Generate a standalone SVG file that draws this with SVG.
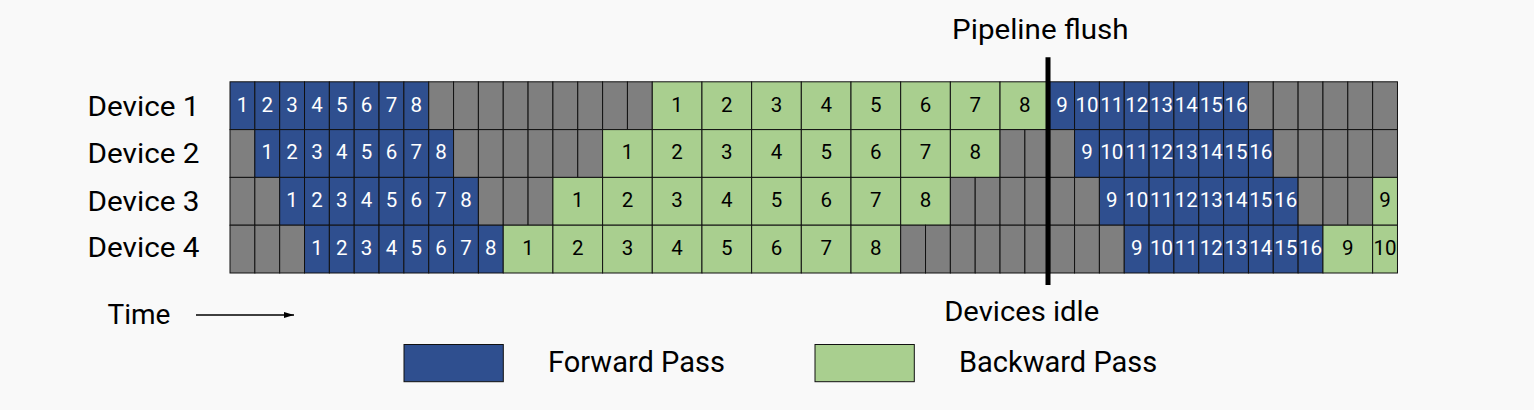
<svg xmlns="http://www.w3.org/2000/svg" width="1534" height="410" viewBox="0 0 1534 410">
<defs>
<style>
.f{fill:#2f4f8f;stroke:#111;stroke-width:1}
.b{fill:#a9cf8f;stroke:#111;stroke-width:1}
.g{fill:#7f7f7f;stroke:#111;stroke-width:1}
.nf{font-family:Roboto,"Liberation Sans",sans-serif;font-size:20.5px;fill:#fff;text-anchor:middle}
.nb{font-family:Roboto,"Liberation Sans",sans-serif;font-size:20.5px;fill:#000;text-anchor:middle}
.lbl{font-family:Roboto,"Liberation Sans",sans-serif;font-size:28px;fill:#000}
.leg{font-family:Roboto,"Liberation Sans",sans-serif;font-size:29px;fill:#000}
</style>
<marker id="ah" viewBox="0 0 10 10" refX="10" refY="5" markerWidth="10" markerHeight="6" markerUnits="userSpaceOnUse" orient="auto" preserveAspectRatio="none">
<path d="M0,0 L10,5 L0,10 Z" fill="#000"/>
</marker>
</defs>
<rect x="0" y="0" width="1534" height="410" fill="#f9f9f9"/>

<g id="device1">
<text class="lbl" x="87.5" y="116" textLength="112" lengthAdjust="spacingAndGlyphs">Device 1</text>
<g>
<rect class="f" x="230" y="81.8" width="24.84" height="47.8"/>
<rect class="f" x="254.84" y="81.8" width="24.84" height="47.8"/>
<rect class="f" x="279.68" y="81.8" width="24.84" height="47.8"/>
<rect class="f" x="304.52" y="81.8" width="24.84" height="47.8"/>
<rect class="f" x="329.36" y="81.8" width="24.84" height="47.8"/>
<rect class="f" x="354.2" y="81.8" width="24.84" height="47.8"/>
<rect class="f" x="379.04" y="81.8" width="24.84" height="47.8"/>
<rect class="f" x="403.88" y="81.8" width="24.84" height="47.8"/>
<rect class="g" x="428.72" y="81.8" width="24.84" height="47.8"/>
<rect class="g" x="453.56" y="81.8" width="24.84" height="47.8"/>
<rect class="g" x="478.4" y="81.8" width="24.84" height="47.8"/>
<rect class="g" x="503.24" y="81.8" width="24.84" height="47.8"/>
<rect class="g" x="528.08" y="81.8" width="24.84" height="47.8"/>
<rect class="g" x="552.92" y="81.8" width="24.84" height="47.8"/>
<rect class="g" x="577.76" y="81.8" width="24.84" height="47.8"/>
<rect class="g" x="602.6" y="81.8" width="24.84" height="47.8"/>
<rect class="g" x="627.44" y="81.8" width="24.84" height="47.8"/>
<rect class="b" x="652.28" y="81.8" width="49.68" height="47.8"/>
<rect class="b" x="701.96" y="81.8" width="49.68" height="47.8"/>
<rect class="b" x="751.64" y="81.8" width="49.68" height="47.8"/>
<rect class="b" x="801.32" y="81.8" width="49.68" height="47.8"/>
<rect class="b" x="851" y="81.8" width="49.68" height="47.8"/>
<rect class="b" x="900.68" y="81.8" width="49.68" height="47.8"/>
<rect class="b" x="950.36" y="81.8" width="49.68" height="47.8"/>
<rect class="b" x="1000.04" y="81.8" width="49.68" height="47.8"/>
<rect class="f" x="1049.72" y="81.8" width="24.84" height="47.8"/>
<rect class="f" x="1074.56" y="81.8" width="24.84" height="47.8"/>
<rect class="f" x="1099.4" y="81.8" width="24.84" height="47.8"/>
<rect class="f" x="1124.24" y="81.8" width="24.84" height="47.8"/>
<rect class="f" x="1149.08" y="81.8" width="24.84" height="47.8"/>
<rect class="f" x="1173.92" y="81.8" width="24.84" height="47.8"/>
<rect class="f" x="1198.76" y="81.8" width="24.84" height="47.8"/>
<rect class="f" x="1223.6" y="81.8" width="24.84" height="47.8"/>
<rect class="g" x="1248.44" y="81.8" width="24.84" height="47.8"/>
<rect class="g" x="1273.28" y="81.8" width="24.84" height="47.8"/>
<rect class="g" x="1298.12" y="81.8" width="24.84" height="47.8"/>
<rect class="g" x="1322.96" y="81.8" width="24.84" height="47.8"/>
<rect class="g" x="1347.8" y="81.8" width="24.84" height="47.8"/>
<rect class="g" x="1372.64" y="81.8" width="24.84" height="47.8"/>
</g>
<g>
<text class="nf" x="242.42" y="111.7">1</text>
<text class="nf" x="267.26" y="111.7">2</text>
<text class="nf" x="292.1" y="111.7">3</text>
<text class="nf" x="316.94" y="111.7">4</text>
<text class="nf" x="341.78" y="111.7">5</text>
<text class="nf" x="366.62" y="111.7">6</text>
<text class="nf" x="391.46" y="111.7">7</text>
<text class="nf" x="416.3" y="111.7">8</text>
<text class="nb" x="677.12" y="111.7">1</text>
<text class="nb" x="726.8" y="111.7">2</text>
<text class="nb" x="776.48" y="111.7">3</text>
<text class="nb" x="826.16" y="111.7">4</text>
<text class="nb" x="875.84" y="111.7">5</text>
<text class="nb" x="925.52" y="111.7">6</text>
<text class="nb" x="975.2" y="111.7">7</text>
<text class="nb" x="1024.88" y="111.7">8</text>
<text class="nf" x="1062.14" y="111.7">9</text>
<text class="nf" x="1086.98" y="111.7">10</text>
<text class="nf" x="1111.82" y="111.7">11</text>
<text class="nf" x="1136.66" y="111.7">12</text>
<text class="nf" x="1161.5" y="111.7">13</text>
<text class="nf" x="1186.34" y="111.7">14</text>
<text class="nf" x="1211.18" y="111.7">15</text>
<text class="nf" x="1236.02" y="111.7">16</text>
</g>
</g>

<g id="device2">
<text class="lbl" x="87.5" y="163.3" textLength="112" lengthAdjust="spacingAndGlyphs">Device 2</text>
<g>
<rect class="g" x="230" y="129.6" width="24.84" height="47.8"/>
<rect class="f" x="254.84" y="129.6" width="24.84" height="47.8"/>
<rect class="f" x="279.68" y="129.6" width="24.84" height="47.8"/>
<rect class="f" x="304.52" y="129.6" width="24.84" height="47.8"/>
<rect class="f" x="329.36" y="129.6" width="24.84" height="47.8"/>
<rect class="f" x="354.2" y="129.6" width="24.84" height="47.8"/>
<rect class="f" x="379.04" y="129.6" width="24.84" height="47.8"/>
<rect class="f" x="403.88" y="129.6" width="24.84" height="47.8"/>
<rect class="f" x="428.72" y="129.6" width="24.84" height="47.8"/>
<rect class="g" x="453.56" y="129.6" width="24.84" height="47.8"/>
<rect class="g" x="478.4" y="129.6" width="24.84" height="47.8"/>
<rect class="g" x="503.24" y="129.6" width="24.84" height="47.8"/>
<rect class="g" x="528.08" y="129.6" width="24.84" height="47.8"/>
<rect class="g" x="552.92" y="129.6" width="24.84" height="47.8"/>
<rect class="g" x="577.76" y="129.6" width="24.84" height="47.8"/>
<rect class="b" x="602.6" y="129.6" width="49.68" height="47.8"/>
<rect class="b" x="652.28" y="129.6" width="49.68" height="47.8"/>
<rect class="b" x="701.96" y="129.6" width="49.68" height="47.8"/>
<rect class="b" x="751.64" y="129.6" width="49.68" height="47.8"/>
<rect class="b" x="801.32" y="129.6" width="49.68" height="47.8"/>
<rect class="b" x="851" y="129.6" width="49.68" height="47.8"/>
<rect class="b" x="900.68" y="129.6" width="49.68" height="47.8"/>
<rect class="b" x="950.36" y="129.6" width="49.68" height="47.8"/>
<rect class="g" x="1000.04" y="129.6" width="24.84" height="47.8"/>
<rect class="g" x="1024.88" y="129.6" width="24.84" height="47.8"/>
<rect class="g" x="1049.72" y="129.6" width="24.84" height="47.8"/>
<rect class="f" x="1074.56" y="129.6" width="24.84" height="47.8"/>
<rect class="f" x="1099.4" y="129.6" width="24.84" height="47.8"/>
<rect class="f" x="1124.24" y="129.6" width="24.84" height="47.8"/>
<rect class="f" x="1149.08" y="129.6" width="24.84" height="47.8"/>
<rect class="f" x="1173.92" y="129.6" width="24.84" height="47.8"/>
<rect class="f" x="1198.76" y="129.6" width="24.84" height="47.8"/>
<rect class="f" x="1223.6" y="129.6" width="24.84" height="47.8"/>
<rect class="f" x="1248.44" y="129.6" width="24.84" height="47.8"/>
<rect class="g" x="1273.28" y="129.6" width="24.84" height="47.8"/>
<rect class="g" x="1298.12" y="129.6" width="24.84" height="47.8"/>
<rect class="g" x="1322.96" y="129.6" width="24.84" height="47.8"/>
<rect class="g" x="1347.8" y="129.6" width="24.84" height="47.8"/>
<rect class="g" x="1372.64" y="129.6" width="24.84" height="47.8"/>
</g>
<g>
<text class="nf" x="267.26" y="159.4">1</text>
<text class="nf" x="292.1" y="159.4">2</text>
<text class="nf" x="316.94" y="159.4">3</text>
<text class="nf" x="341.78" y="159.4">4</text>
<text class="nf" x="366.62" y="159.4">5</text>
<text class="nf" x="391.46" y="159.4">6</text>
<text class="nf" x="416.3" y="159.4">7</text>
<text class="nf" x="441.14" y="159.4">8</text>
<text class="nb" x="627.44" y="159.4">1</text>
<text class="nb" x="677.12" y="159.4">2</text>
<text class="nb" x="726.8" y="159.4">3</text>
<text class="nb" x="776.48" y="159.4">4</text>
<text class="nb" x="826.16" y="159.4">5</text>
<text class="nb" x="875.84" y="159.4">6</text>
<text class="nb" x="925.52" y="159.4">7</text>
<text class="nb" x="975.2" y="159.4">8</text>
<text class="nf" x="1086.98" y="159.4">9</text>
<text class="nf" x="1111.82" y="159.4">10</text>
<text class="nf" x="1136.66" y="159.4">11</text>
<text class="nf" x="1161.5" y="159.4">12</text>
<text class="nf" x="1186.34" y="159.4">13</text>
<text class="nf" x="1211.18" y="159.4">14</text>
<text class="nf" x="1236.02" y="159.4">15</text>
<text class="nf" x="1260.86" y="159.4">16</text>
</g>
</g>

<g id="device3">
<text class="lbl" x="87.5" y="210.7" textLength="112" lengthAdjust="spacingAndGlyphs">Device 3</text>
<g>
<rect class="g" x="230" y="177.4" width="24.84" height="47.8"/>
<rect class="g" x="254.84" y="177.4" width="24.84" height="47.8"/>
<rect class="f" x="279.68" y="177.4" width="24.84" height="47.8"/>
<rect class="f" x="304.52" y="177.4" width="24.84" height="47.8"/>
<rect class="f" x="329.36" y="177.4" width="24.84" height="47.8"/>
<rect class="f" x="354.2" y="177.4" width="24.84" height="47.8"/>
<rect class="f" x="379.04" y="177.4" width="24.84" height="47.8"/>
<rect class="f" x="403.88" y="177.4" width="24.84" height="47.8"/>
<rect class="f" x="428.72" y="177.4" width="24.84" height="47.8"/>
<rect class="f" x="453.56" y="177.4" width="24.84" height="47.8"/>
<rect class="g" x="478.4" y="177.4" width="24.84" height="47.8"/>
<rect class="g" x="503.24" y="177.4" width="24.84" height="47.8"/>
<rect class="g" x="528.08" y="177.4" width="24.84" height="47.8"/>
<rect class="b" x="552.92" y="177.4" width="49.68" height="47.8"/>
<rect class="b" x="602.6" y="177.4" width="49.68" height="47.8"/>
<rect class="b" x="652.28" y="177.4" width="49.68" height="47.8"/>
<rect class="b" x="701.96" y="177.4" width="49.68" height="47.8"/>
<rect class="b" x="751.64" y="177.4" width="49.68" height="47.8"/>
<rect class="b" x="801.32" y="177.4" width="49.68" height="47.8"/>
<rect class="b" x="851" y="177.4" width="49.68" height="47.8"/>
<rect class="b" x="900.68" y="177.4" width="49.68" height="47.8"/>
<rect class="g" x="950.36" y="177.4" width="24.84" height="47.8"/>
<rect class="g" x="975.2" y="177.4" width="24.84" height="47.8"/>
<rect class="g" x="1000.04" y="177.4" width="24.84" height="47.8"/>
<rect class="g" x="1024.88" y="177.4" width="24.84" height="47.8"/>
<rect class="g" x="1049.72" y="177.4" width="24.84" height="47.8"/>
<rect class="g" x="1074.56" y="177.4" width="24.84" height="47.8"/>
<rect class="f" x="1099.4" y="177.4" width="24.84" height="47.8"/>
<rect class="f" x="1124.24" y="177.4" width="24.84" height="47.8"/>
<rect class="f" x="1149.08" y="177.4" width="24.84" height="47.8"/>
<rect class="f" x="1173.92" y="177.4" width="24.84" height="47.8"/>
<rect class="f" x="1198.76" y="177.4" width="24.84" height="47.8"/>
<rect class="f" x="1223.6" y="177.4" width="24.84" height="47.8"/>
<rect class="f" x="1248.44" y="177.4" width="24.84" height="47.8"/>
<rect class="f" x="1273.28" y="177.4" width="24.84" height="47.8"/>
<rect class="g" x="1298.12" y="177.4" width="24.84" height="47.8"/>
<rect class="g" x="1322.96" y="177.4" width="24.84" height="47.8"/>
<rect class="g" x="1347.8" y="177.4" width="24.84" height="47.8"/>
<rect class="b" x="1372.64" y="177.4" width="24.84" height="47.8"/>
</g>
<g>
<text class="nf" x="292.1" y="207.3">1</text>
<text class="nf" x="316.94" y="207.3">2</text>
<text class="nf" x="341.78" y="207.3">3</text>
<text class="nf" x="366.62" y="207.3">4</text>
<text class="nf" x="391.46" y="207.3">5</text>
<text class="nf" x="416.3" y="207.3">6</text>
<text class="nf" x="441.14" y="207.3">7</text>
<text class="nf" x="465.98" y="207.3">8</text>
<text class="nb" x="577.76" y="207.3">1</text>
<text class="nb" x="627.44" y="207.3">2</text>
<text class="nb" x="677.12" y="207.3">3</text>
<text class="nb" x="726.8" y="207.3">4</text>
<text class="nb" x="776.48" y="207.3">5</text>
<text class="nb" x="826.16" y="207.3">6</text>
<text class="nb" x="875.84" y="207.3">7</text>
<text class="nb" x="925.52" y="207.3">8</text>
<text class="nf" x="1111.82" y="207.3">9</text>
<text class="nf" x="1136.66" y="207.3">10</text>
<text class="nf" x="1161.5" y="207.3">11</text>
<text class="nf" x="1186.34" y="207.3">12</text>
<text class="nf" x="1211.18" y="207.3">13</text>
<text class="nf" x="1236.02" y="207.3">14</text>
<text class="nf" x="1260.86" y="207.3">15</text>
<text class="nf" x="1285.7" y="207.3">16</text>
<text class="nb" x="1385.06" y="207.3">9</text>
</g>
</g>

<g id="device4">
<text class="lbl" x="87.5" y="257.3" textLength="112" lengthAdjust="spacingAndGlyphs">Device 4</text>
<g>
<rect class="g" x="230" y="225.2" width="24.84" height="47.8"/>
<rect class="g" x="254.84" y="225.2" width="24.84" height="47.8"/>
<rect class="g" x="279.68" y="225.2" width="24.84" height="47.8"/>
<rect class="f" x="304.52" y="225.2" width="24.84" height="47.8"/>
<rect class="f" x="329.36" y="225.2" width="24.84" height="47.8"/>
<rect class="f" x="354.2" y="225.2" width="24.84" height="47.8"/>
<rect class="f" x="379.04" y="225.2" width="24.84" height="47.8"/>
<rect class="f" x="403.88" y="225.2" width="24.84" height="47.8"/>
<rect class="f" x="428.72" y="225.2" width="24.84" height="47.8"/>
<rect class="f" x="453.56" y="225.2" width="24.84" height="47.8"/>
<rect class="f" x="478.4" y="225.2" width="24.84" height="47.8"/>
<rect class="b" x="503.24" y="225.2" width="49.68" height="47.8"/>
<rect class="b" x="552.92" y="225.2" width="49.68" height="47.8"/>
<rect class="b" x="602.6" y="225.2" width="49.68" height="47.8"/>
<rect class="b" x="652.28" y="225.2" width="49.68" height="47.8"/>
<rect class="b" x="701.96" y="225.2" width="49.68" height="47.8"/>
<rect class="b" x="751.64" y="225.2" width="49.68" height="47.8"/>
<rect class="b" x="801.32" y="225.2" width="49.68" height="47.8"/>
<rect class="b" x="851" y="225.2" width="49.68" height="47.8"/>
<rect class="g" x="900.68" y="225.2" width="24.84" height="47.8"/>
<rect class="g" x="925.52" y="225.2" width="24.84" height="47.8"/>
<rect class="g" x="950.36" y="225.2" width="24.84" height="47.8"/>
<rect class="g" x="975.2" y="225.2" width="24.84" height="47.8"/>
<rect class="g" x="1000.04" y="225.2" width="24.84" height="47.8"/>
<rect class="g" x="1024.88" y="225.2" width="24.84" height="47.8"/>
<rect class="g" x="1049.72" y="225.2" width="24.84" height="47.8"/>
<rect class="g" x="1074.56" y="225.2" width="24.84" height="47.8"/>
<rect class="g" x="1099.4" y="225.2" width="24.84" height="47.8"/>
<rect class="f" x="1124.24" y="225.2" width="24.84" height="47.8"/>
<rect class="f" x="1149.08" y="225.2" width="24.84" height="47.8"/>
<rect class="f" x="1173.92" y="225.2" width="24.84" height="47.8"/>
<rect class="f" x="1198.76" y="225.2" width="24.84" height="47.8"/>
<rect class="f" x="1223.6" y="225.2" width="24.84" height="47.8"/>
<rect class="f" x="1248.44" y="225.2" width="24.84" height="47.8"/>
<rect class="f" x="1273.28" y="225.2" width="24.84" height="47.8"/>
<rect class="f" x="1298.12" y="225.2" width="24.84" height="47.8"/>
<rect class="b" x="1322.96" y="225.2" width="49.68" height="47.8"/>
<rect class="b" x="1372.64" y="225.2" width="24.84" height="47.8"/>
</g>
<g>
<text class="nf" x="316.94" y="255">1</text>
<text class="nf" x="341.78" y="255">2</text>
<text class="nf" x="366.62" y="255">3</text>
<text class="nf" x="391.46" y="255">4</text>
<text class="nf" x="416.3" y="255">5</text>
<text class="nf" x="441.14" y="255">6</text>
<text class="nf" x="465.98" y="255">7</text>
<text class="nf" x="490.82" y="255">8</text>
<text class="nb" x="528.08" y="255">1</text>
<text class="nb" x="577.76" y="255">2</text>
<text class="nb" x="627.44" y="255">3</text>
<text class="nb" x="677.12" y="255">4</text>
<text class="nb" x="726.8" y="255">5</text>
<text class="nb" x="776.48" y="255">6</text>
<text class="nb" x="826.16" y="255">7</text>
<text class="nb" x="875.84" y="255">8</text>
<text class="nf" x="1136.66" y="255">9</text>
<text class="nf" x="1161.5" y="255">10</text>
<text class="nf" x="1186.34" y="255">11</text>
<text class="nf" x="1211.18" y="255">12</text>
<text class="nf" x="1236.02" y="255">13</text>
<text class="nf" x="1260.86" y="255">14</text>
<text class="nf" x="1285.7" y="255">15</text>
<text class="nf" x="1310.54" y="255">16</text>
<text class="nb" x="1347.8" y="255">9</text>
<text class="nb" x="1385.06" y="255">10</text>
</g>
</g>

<g id="connectors">
<line x1="196" y1="315" x2="294" y2="315" stroke="#000" stroke-width="1.4" marker-end="url(#ah)"/>
<line x1="1048" y1="57.3" x2="1048" y2="285" stroke="#000" stroke-width="5"/>
</g>

<g id="annotations">
<text class="lbl" x="1040.3" y="39" text-anchor="middle" textLength="176.5" lengthAdjust="spacingAndGlyphs">Pipeline flush</text>
<text class="lbl" x="1021.7" y="321" text-anchor="middle" textLength="155" lengthAdjust="spacingAndGlyphs">Devices idle</text>
<text class="lbl" x="107.5" y="324">Time</text>
</g>

<g id="legend-forward">
<rect class="f" x="404" y="344.5" width="99.3" height="37.2" stroke-width="1.3"/>
<text class="leg" x="548" y="371.7">Forward Pass</text>
</g>
<g id="legend-backward">
<rect class="b" x="815" y="344.5" width="99.3" height="37.2" stroke-width="1.3"/>
<text class="leg" x="959" y="371.7">Backward Pass</text>
</g>
</svg>
